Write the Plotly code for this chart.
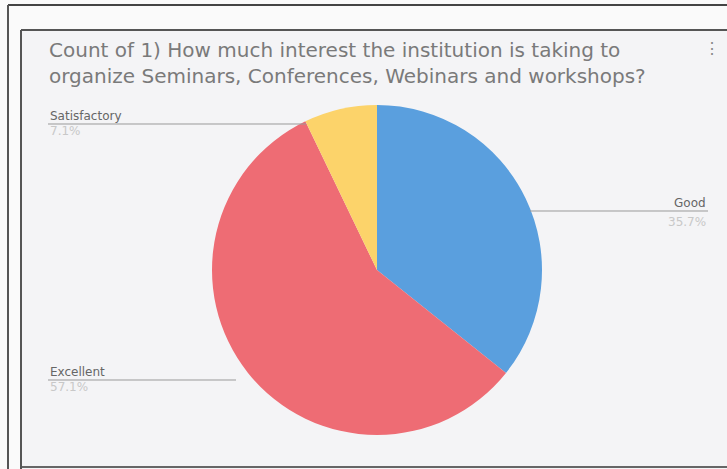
import plotly.graph_objects as go

W, H = 727, 469

categories = ["Good", "Excellent", "Satisfactory"]
counts = [5, 8, 1]
colors = ["#5a9fde", "#ee6c74", "#fcd36a"]
title_lines = ["Count of 1) How much interest the institution is taking to",
               "organize Seminars, Conferences, Webinars and workshops?"]

def px(x):
    return x / W

def py(y):
    return 1 - y / H

total = sum(counts)
pct = {c: f"{v / total * 100:.1f}%" for c, v in zip(categories, counts)}

cx, cy, r = 377, 270, 165

fig = go.Figure()
fig.add_trace(go.Pie(
    labels=categories, values=counts, sort=False, direction="clockwise",
    rotation=0, marker=dict(colors=colors, line=dict(width=0)),
    textinfo="none", hoverinfo="label+percent", showlegend=False,
    domain=dict(x=[px(cx - r), px(cx + r)], y=[py(cy + r), py(cy - r)]),
))

def hline(x0, x1, y, color, width):
    return dict(type="line", xref="paper", yref="paper", x0=px(x0), x1=px(x1),
                y0=py(y), y1=py(y), line=dict(color=color, width=width))

def vline(x, y0, y1, color, width):
    return dict(type="line", xref="paper", yref="paper", x0=px(x), x1=px(x),
                y0=py(y0), y1=py(y1), line=dict(color=color, width=width))

shapes = [
    dict(type="rect", xref="paper", yref="paper", x0=px(21), x1=1, y0=0, y1=py(30),
         fillcolor="#f4f4f6", line=dict(width=0), layer="below"),
    hline(8, 740, 5, "#444", 2),
    vline(8, 5, 480, "#555", 2),
    hline(21, 740, 30, "#555", 2),
    vline(21, 30, 480, "#555", 2),
    hline(22, 740, 467, "#666", 2),
    # leader lines
    hline(48, 306, 124, "#999", 1),
    hline(530, 708, 211, "#999", 1),
    hline(48, 236, 380, "#999", 1),
]

TF = "DejaVu Sans"
annotations = [
    dict(text="<br>".join(title_lines), x=px(47), y=py(63), xanchor="left", yanchor="middle",
         align="left", font=dict(size=20, color="#7a7a7a", family=TF)),
    dict(text="Satisfactory", x=px(48), y=py(116), xanchor="left", yanchor="middle",
         font=dict(size=12, color="#666", family=TF)),
    dict(text=pct["Satisfactory"], x=px(48), y=py(131), xanchor="left", yanchor="middle",
         font=dict(size=12, color="#c8c8c8", family=TF)),
    dict(text="Good", x=px(708), y=py(203), xanchor="right", yanchor="middle",
         font=dict(size=12, color="#666", family=TF)),
    dict(text=pct["Good"], x=px(708), y=py(222), xanchor="right", yanchor="middle",
         font=dict(size=12, color="#c8c8c8", family=TF)),
    dict(text="Excellent", x=px(48), y=py(372), xanchor="left", yanchor="middle",
         font=dict(size=12, color="#666", family=TF)),
    dict(text=pct["Excellent"], x=px(48), y=py(387), xanchor="left", yanchor="middle",
         font=dict(size=12, color="#c8c8c8", family=TF)),
    dict(text="⋮", x=px(712), y=py(48), xanchor="center", yanchor="middle",
         font=dict(size=16, color="#888")),
]
for a in annotations:
    a.update(xref="paper", yref="paper", showarrow=False)

fig.update_layout(
    width=W, height=H, margin=dict(l=0, r=0, t=0, b=0),
    paper_bgcolor="#fafafa", plot_bgcolor="#f4f4f6",
    font=dict(family="Liberation Sans"),
    shapes=shapes, annotations=annotations,
)

fig.write_html("out.html", config={"displayModeBar": False},
               post_script="document.body.style.margin='0';")
